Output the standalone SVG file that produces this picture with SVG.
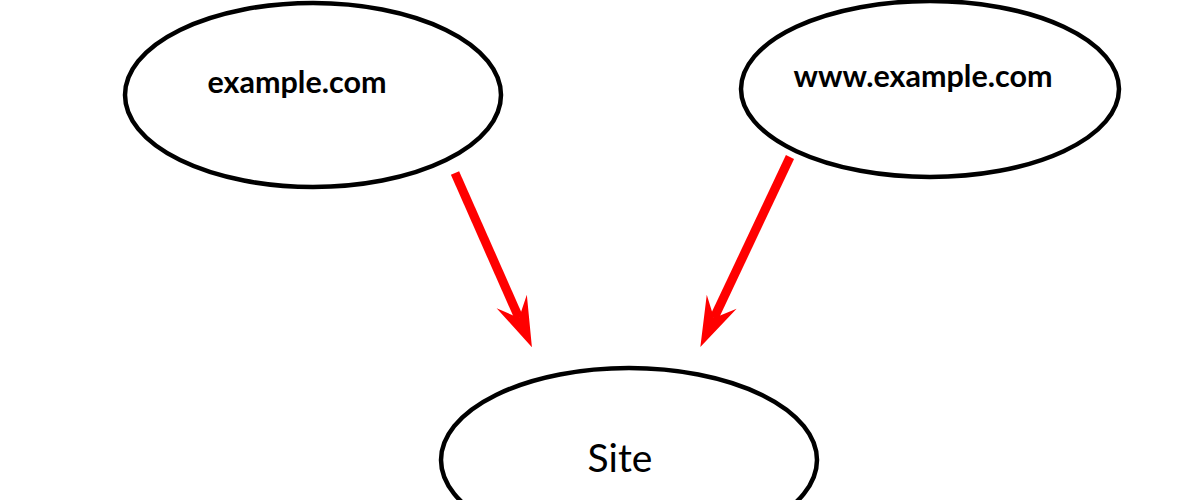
<svg xmlns="http://www.w3.org/2000/svg" width="1200" height="500" viewBox="0 0 1200 500">
<style>
.node ellipse{fill:#fff;stroke:#000;stroke-width:4.5}
.lbl{font-family:Lato,"Open Sans",sans-serif;fill:#000;text-anchor:middle}
.b{font-weight:bold;font-size:30.5px}
.r{font-size:39px}
.conn line{stroke:#ff0000;stroke-width:9}
</style>
<defs>
<marker id="ah" markerUnits="userSpaceOnUse" orient="auto" viewBox="-20 -20 60 40" markerWidth="60" markerHeight="40" refX="0" refY="0" overflow="visible">
<path d="M32,0 L-18,-16.5 L0,0 L-18,16.5 Z" fill="#ff0000"/>
</marker>
</defs>
<rect width="1200" height="500" fill="#fff"/>
<g id="node-example" class="node">
<ellipse cx="313" cy="95" rx="188" ry="92"/>
<text class="lbl b" x="297" y="93">example.com</text>
</g>
<g id="node-www" class="node">
<ellipse cx="930" cy="89" rx="189" ry="88"/>
<text class="lbl b" x="923" y="87">www.example.com</text>
</g>
<g id="node-site" class="node">
<ellipse cx="629" cy="460" rx="188" ry="92"/>
<text class="lbl r" x="620" y="472">Site</text>
</g>
<g id="connectors" class="conn">
<line x1="455" y1="173" x2="519" y2="318" marker-end="url(#ah)"/>
<line x1="790" y1="157" x2="714" y2="318" marker-end="url(#ah)"/>
</g>
</svg>
